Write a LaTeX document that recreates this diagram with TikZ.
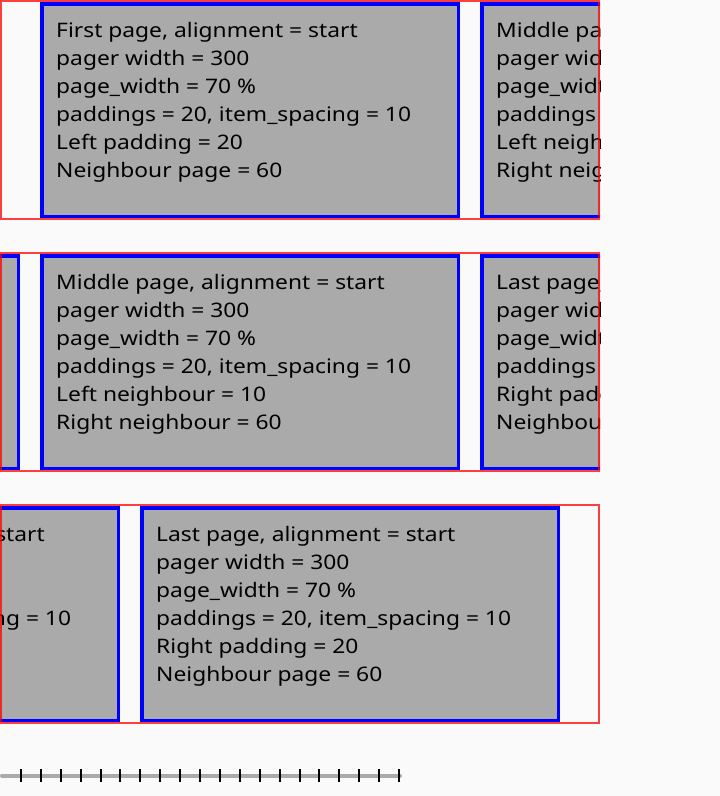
\documentclass[tikz,border=0pt]{standalone}
\usepackage{fontspec}
\setmainfont[FakeStretch=1.14]{Noto Sans}
\definecolor{bgcol}{HTML}{FAFAFA}
\definecolor{pagefill}{HTML}{AAAAAA}
\definecolor{rulergray}{HTML}{AAAAAA}

% Captions of the three kinds of pages
\newcommand\txtfirst{First page, alignment = start\\pager width = 300\\page\_width = 70 \%\\paddings = 20, item\_spacing = 10\\Left padding = 20\\Neighbour page = 60}
\newcommand\txtmiddle{Middle page, alignment = start\\pager width = 300\\page\_width = 70 \%\\paddings = 20, item\_spacing = 10\\Left neighbour = 10\\Right neighbour = 60}
\newcommand\txtlast{Last page, alignment = start\\pager width = 300\\page\_width = 70 \%\\paddings = 20, item\_spacing = 10\\Right padding = 20\\Neighbour page = 60}

% A page card: name, left edge, row top, caption
\newcommand\pagecard[4]{%
  \node[pagebox] (#1) at (#2,#3+2) {};
  \node[pagetext] (#1-text) at ([shift={(16,20)}]#1.north west) {#4};
}

\begin{document}
\begin{tikzpicture}[x=1pt,y=-1pt,
  pagebox/.style={draw=blue, line width=3.5pt, fill=pagefill, rectangle,
    minimum width=416.5pt, minimum height=212.5pt, inner sep=0pt, anchor=north west},
  pagetext/.style={anchor=north west, align=left, inner sep=0pt,
    font=\fontsize{20}{28}\selectfont},
  pagerframe/.style={draw=red, draw opacity=0.75, line width=2pt, rectangle,
    minimum width=598pt, minimum height=218pt, inner sep=0pt, anchor=north west},
  rulerline/.style={rulergray, line width=4pt, line cap=round},
  rulertick/.style={black, line width=2pt},
]
\useasboundingbox (0,0) rectangle (720,796);
\fill[bgcol] (0,0) rectangle (720,796);

% Row 1: first page
\begin{scope}
  \clip (0,0) rectangle (600,220);
  \pagecard{r1a}{40}{0}{\txtfirst}
  \pagecard{r1b}{480}{0}{\txtmiddle}
\end{scope}
\node[pagerframe] (frame1) at (0,0) {};

% Row 2: middle page
\begin{scope}
  \clip (0,252) rectangle (600,472);
  \pagecard{r2a}{-400}{252}{\txtfirst}
  \pagecard{r2b}{40}{252}{\txtmiddle}
  \pagecard{r2c}{480}{252}{\txtlast}
\end{scope}
\node[pagerframe] (frame2) at (0,252) {};

% Row 3: last page
\begin{scope}
  \clip (0,504) rectangle (600,724);
  \pagecard{r3a}{-300}{504}{\txtmiddle}
  \pagecard{r3b}{140}{504}{\txtlast}
\end{scope}
\node[pagerframe] (frame3) at (0,504) {};

% Scale ruler
\draw[rulerline] (2,775.5) -- (400,775.5);
\foreach \k in {1,...,20}
  \draw[rulertick] ({1+19.9*\k},769) -- ({1+19.9*\k},782);
\end{tikzpicture}
\end{document}
